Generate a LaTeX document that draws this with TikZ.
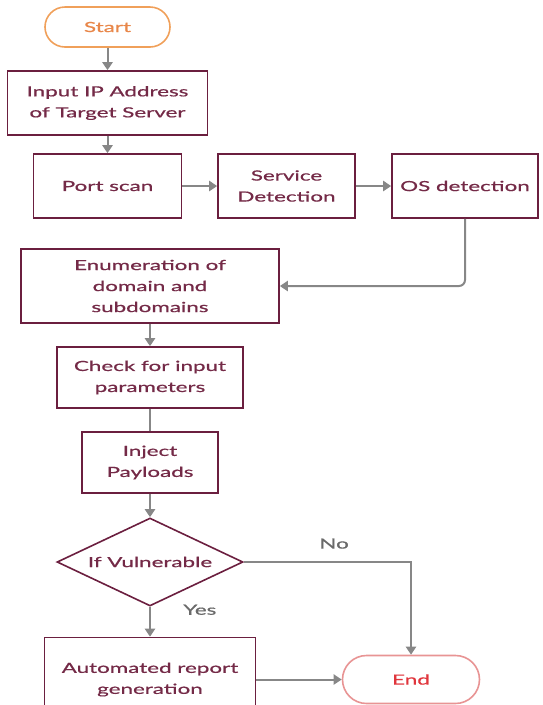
\documentclass[tikz,border=0pt]{standalone}
\usepackage{fontspec}
\setmainfont{Lato}[FakeStretch=1.6,FakeBold=0.7]
\usetikzlibrary{shapes.geometric,arrows.meta}
\definecolor{boxline}{HTML}{6B1F3F}
\definecolor{boxtext}{HTML}{742A47}
\definecolor{flowgray}{HTML}{878787}
\definecolor{labelgray}{HTML}{6A6A6A}
\definecolor{startline}{HTML}{F0A05A}
\definecolor{starttext}{HTML}{E8874A}
\definecolor{endline}{HTML}{E89494}
\definecolor{endtext}{HTML}{E0353C}

\begin{document}
\begin{tikzpicture}[x=1pt,y=-1pt,
   every node/.style={font=\fontsize{14}{21}\selectfont},
   procbox/.style={draw=boxline,text=boxtext,line width=1.6pt,align=center,inner sep=0pt},
   terminal/.style={draw,line width=1.6pt,rounded corners=20pt,inner sep=0pt},
   decision/.style={diamond,draw=boxline,text=boxtext,line width=1.6pt,inner sep=0pt,aspect=2.1},
   link/.style={draw=flowgray,line width=2pt},
   flow/.style={link,-{Triangle[length=8pt,width=10pt]}},
   flowlabel/.style={text=labelgray}]

\useasboundingbox (0,0) rectangle (542,705);

\node[terminal,draw=startline,text=starttext,minimum width=125pt,minimum height=40pt] (start) at (107.5,27) {Start};
\node[procbox,minimum width=200pt,minimum height=64pt] (input) at (107.5,103) {Input IP Address\\of Target Server};

\node[procbox,minimum width=148pt,minimum height=64pt] (port) at (107.5,186) {Port scan};
\node[procbox,minimum width=137pt,minimum height=64pt] (service) at (286.5,186) {Service\\Detection};
\node[procbox,minimum width=146pt,minimum height=64pt] (os) at (465,186) {OS detection};

\node[procbox,minimum width=258pt,minimum height=74pt] (enum) at (150,286) {Enumeration of\\domain and\\subdomains};
\node[procbox,minimum width=186pt,minimum height=61pt] (check) at (150,377.5) {Check for input\\parameters};
\node[procbox,minimum width=136pt,minimum height=61pt] (inject) at (150,462.5) {Inject\\Payloads};

\node[decision,minimum width=186pt,minimum height=88pt] (vuln) at (150,562) {If Vulnerable};

\node[procbox,minimum width=211pt,minimum height=84pt] (report) at (150,679.5) {Automated report\\generation};
\node[terminal,draw=endline,text=endtext,minimum width=137pt,minimum height=48pt,rounded corners=24pt] (end) at (411,679.5) {End};

\draw[flow] (start) -- (input);
\draw[flow] (input) -- (port);
\draw[flow] (port) -- (service);
\draw[flow] (service) -- (os);
\draw[flow,rounded corners=6pt] (os.south) |- (enum.east);
\draw[flow] (enum) -- (check);
\draw[link] (check) -- (inject);
\draw[flow] (inject) -- (vuln);
\draw[flow] (vuln) -- node[flowlabel,right=29pt,pos=0.1] {Yes} (report);
\draw[flow] (vuln.east) -| node[flowlabel,above=9pt,pos=0.27] {No} (end.north);
\draw[flow] (report) -- (end);

\end{tikzpicture}
\end{document}
